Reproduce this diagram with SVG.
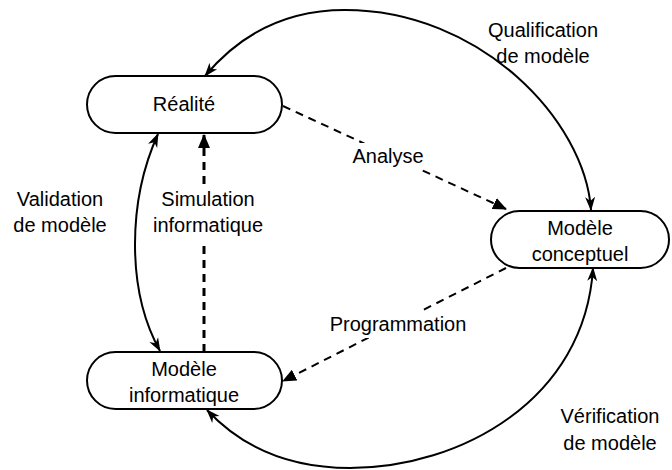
<svg xmlns="http://www.w3.org/2000/svg" width="672" height="470" viewBox="0 0 672 470">
<style>
text{font-family:"Liberation Sans",Arial,sans-serif;font-size:20px;fill:#000;text-anchor:middle}
.box{fill:#fff;stroke:#000;stroke-width:2}
.arc{fill:none;stroke:#000;stroke-width:2}
.dash{fill:none;stroke:#000;stroke-width:2;stroke-dasharray:8 6}
.thick{stroke-width:3}
.bg{fill:#fff}
</style>
<defs>
<marker id="cls" viewBox="0 0 14 10" refX="13" refY="5" markerWidth="14" markerHeight="11" orient="auto-start-reverse" markerUnits="userSpaceOnUse">
<path d="M0,0 L14,5 L0,10 L4,5 Z" fill="#000"/>
</marker>
<marker id="blk" viewBox="0 0 14 12" refX="13" refY="6" markerWidth="14" markerHeight="12" orient="auto" markerUnits="userSpaceOnUse">
<path d="M0,0 L14,6 L0,12 Z" fill="#000"/>
</marker>
</defs>
<g id="connectors">
<path class="arc" d="M591,210 C585,120 480,10 345,10 C280,10 235,40 205,76" marker-start="url(#cls)" marker-end="url(#cls)"/>
<path class="arc" d="M158,134 C128,200 126,290 160,351" marker-start="url(#cls)" marker-end="url(#cls)"/>
<path class="arc" d="M593,268 C585,400 460,468 350,468 C280,468 235,440 207,410" marker-start="url(#cls)" marker-end="url(#cls)"/>
<path class="dash thick" d="M204,352 L204,135" marker-end="url(#blk)"/>
<path class="dash" d="M283,106 L506,209" marker-end="url(#blk)"/>
<path class="dash" d="M506,268 L283,381" marker-end="url(#blk)"/>
<rect class="bg" x="150" y="184" width="116" height="56"/>
<rect class="bg" x="346" y="143" width="86" height="26"/>
<rect class="bg" x="324" y="311" width="148" height="27"/>
<text x="208" y="206">Simulation</text>
<text x="208" y="232">informatique</text>
<text x="388" y="163">Analyse</text>
<text x="398" y="331">Programmation</text>
<text x="60" y="206">Validation</text>
<text x="60" y="232">de modèle</text>
<text x="543" y="37">Qualification</text>
<text x="543" y="63">de modèle</text>
<text x="610" y="423">Vérification</text>
<text x="610" y="450">de modèle</text>
</g>
<g id="realite">
<rect class="box" x="87" y="76" width="195" height="57" rx="28.5"/>
<text x="184" y="111">Réalité</text>
</g>
<g id="modele-conceptuel">
<rect class="box" x="491" y="211" width="178" height="57" rx="28.5"/>
<text x="580" y="235">Modèle</text>
<text x="580" y="261">conceptuel</text>
</g>
<g id="modele-informatique">
<rect class="box" x="87" y="352" width="195" height="57" rx="28.5"/>
<text x="184" y="376">Modèle</text>
<text x="184" y="402">informatique</text>
</g>
</svg>
